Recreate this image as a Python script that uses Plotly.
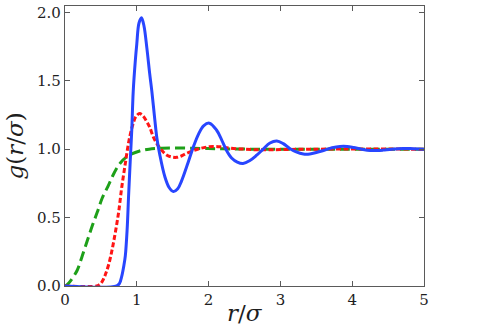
import plotly.graph_objects as go

# Radial distribution functions
r_blue = [0, 0.72, 0.76, 0.79, 0.82, 0.84, 0.865, 0.885, 0.91, 0.93, 0.95, 0.98, 1.0, 1.03,
          1.065, 1.10, 1.14, 1.18, 1.21, 1.25, 1.28, 1.32, 1.39, 1.45, 1.51, 1.57, 1.625,
          1.70, 1.79, 1.86, 1.93, 2.01, 2.11, 2.18, 2.25, 2.32, 2.40, 2.48, 2.57, 2.67,
          2.76, 2.855, 2.95, 3.04, 3.13, 3.22, 3.32, 3.41, 3.50, 3.6, 3.72, 3.83, 3.93,
          4.02, 4.13, 4.25, 4.35, 4.43, 4.55, 4.71, 4.85, 5.0]
g_blue = [0, 0, 0.02, 0.07, 0.15, 0.22, 0.41, 0.65, 0.93, 1.14, 1.42, 1.65, 1.77, 1.92,
          1.96, 1.90, 1.74, 1.55, 1.42, 1.22, 1.08, 0.96, 0.80, 0.72, 0.69, 0.71, 0.77,
          0.88, 1.02, 1.11, 1.17, 1.19, 1.14, 1.07, 0.99, 0.935, 0.905, 0.895, 0.915, 0.956,
          1.00, 1.045, 1.06, 1.04, 1.005, 0.98, 0.965, 0.965, 0.975, 0.99, 1.01, 1.02, 1.02,
          1.012, 1.0, 0.99, 0.99, 0.993, 1.0, 1.005, 1.003, 1.0]

r_red = [0, 0.44, 0.48, 0.515, 0.56, 0.61, 0.65, 0.68, 0.72, 0.75, 0.79, 0.84, 0.89, 0.94,
         0.99, 1.04, 1.09, 1.14, 1.18, 1.23, 1.28, 1.35, 1.42, 1.49, 1.555, 1.62, 1.695,
         1.79, 1.88, 1.97, 2.065, 2.16, 2.25, 2.38, 2.5, 2.65, 2.8, 3.0, 3.5, 5.0]
g_red = [0, 0, 0.01, 0.03, 0.08, 0.16, 0.25, 0.33, 0.45, 0.55, 0.72, 0.895, 1.06, 1.17,
         1.24, 1.26, 1.24, 1.20, 1.16, 1.09, 1.04, 0.99, 0.956, 0.942, 0.94, 0.95, 0.97,
         0.99, 1.005, 1.015, 1.02, 1.017, 1.01, 1.003, 1.0, 0.996, 0.995, 0.997, 1.0, 1.0]

r_green = [0, 0.03, 0.08, 0.17, 0.24, 0.31, 0.38, 0.45, 0.52, 0.6, 0.66, 0.72, 0.78, 0.85,
           0.93, 1.03, 1.17, 1.35, 1.6, 1.9, 2.2, 2.6, 5.0]
g_green = [0, 0.01, 0.04, 0.115, 0.22, 0.33, 0.44, 0.54, 0.645, 0.73, 0.8, 0.86, 0.905, 0.94,
           0.965, 0.985, 1.0, 1.007, 1.008, 1.005, 1.002, 1.0, 1.0]

x_ticks = [0, 1, 2, 3, 4, 5]
y_ticks = [0.0, 0.5, 1.0, 1.5, 2.0]

font = 'DejaVu Serif'
ink = 'rgb(30,30,30)'

fig = go.Figure()

# draw order: green under red, blue on top
fig.add_trace(go.Scatter(x=r_green, y=g_green, mode='lines', line_shape='spline',
                         line=dict(color='rgb(30,160,25)', width=3, dash='10px,5px')))
fig.add_trace(go.Scatter(x=r_red, y=g_red, mode='lines', line_shape='spline',
                         line=dict(color='rgb(255,20,20)', width=3, dash='5px,2.5px')))
fig.add_trace(go.Scatter(x=r_blue, y=g_blue, mode='lines', line_shape='spline',
                         line=dict(color='rgb(40,70,255)', width=3)))

axis_style = dict(
    showgrid=False, zeroline=False, automargin=False,
    showline=True, linecolor='rgb(90,90,90)', linewidth=1.2, mirror='ticks',
    ticks='inside', ticklen=5, tickcolor='rgb(90,90,90)', tickwidth=1,
    tickfont=dict(family=font, size=15, color=ink),
)

fig.update_layout(
    width=491, height=331,
    margin=dict(l=65, r=67, t=6, b=45),
    paper_bgcolor='white', plot_bgcolor='white',
    showlegend=False,
    font=dict(family=font),
    xaxis=dict(range=[0, 5], tickvals=x_ticks, ticktext=[str(v) for v in x_ticks],
               **axis_style),
    yaxis=dict(range=[0, 2.046], tickvals=y_ticks, ticktext=[f'{v:.1f}' for v in y_ticks],
               **axis_style),
    annotations=[
        dict(text='<i>r</i>/<i>σ</i>', xref='paper', yref='paper', x=0.5, y=-0.096,
             xanchor='center', yanchor='middle', showarrow=False,
             font=dict(family=font, size=23, color=ink)),
        dict(text='<i>g</i>(<i>r</i>/<i>σ</i>)', xref='paper', yref='paper', x=-0.138, y=0.5,
             xanchor='center', yanchor='middle', textangle=-90, showarrow=False,
             font=dict(family=font, size=23, color=ink)),
    ],
)

# page body has a default margin; drop it so the figure sits at the window corner
fig.write_html('out.html', config={'displayModeBar': False},
               post_script="document.body.style.margin='0';")
